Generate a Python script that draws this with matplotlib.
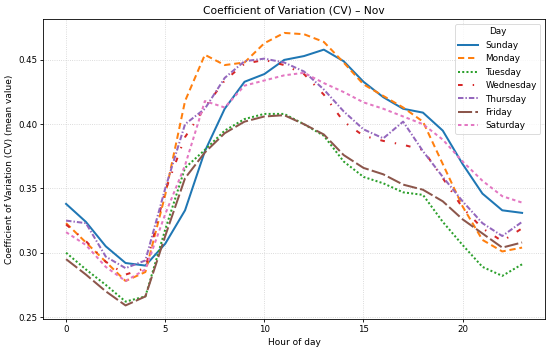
import matplotlib
matplotlib.use("Agg")
import matplotlib.pyplot as plt

hours = list(range(24))
days = ["Sunday", "Monday", "Tuesday", "Wednesday", "Thursday", "Friday", "Saturday"]

sunday = [0.338, 0.324, 0.305, 0.292, 0.290, 0.307, 0.333, 0.379, 0.412, 0.433, 0.439, 0.450,
          0.453, 0.458, 0.449, 0.433, 0.421, 0.412, 0.409, 0.395, 0.369, 0.346, 0.333, 0.331]
monday = [0.323, 0.308, 0.293, 0.278, 0.285, 0.345, 0.418, 0.454, 0.446, 0.448, 0.463, 0.471,
          0.470, 0.464, 0.448, 0.431, 0.422, 0.413, 0.402, 0.369, 0.336, 0.310, 0.301, 0.304]
tuesday = [0.300, 0.287, 0.275, 0.262, 0.266, 0.318, 0.366, 0.380, 0.395, 0.404, 0.408, 0.408,
           0.400, 0.391, 0.371, 0.359, 0.354, 0.347, 0.345, 0.324, 0.306, 0.289, 0.282, 0.291]
wednesday = [0.322, 0.309, 0.293, 0.283, 0.288, 0.348, 0.390, 0.413, 0.434, 0.447, 0.450, 0.446,
             0.439, 0.423, 0.402, 0.391, 0.387, 0.384, 0.380, 0.358, 0.335, 0.319, 0.309, 0.319]
thursday = [0.325, 0.323, 0.297, 0.288, 0.294, 0.350, 0.400, 0.412, 0.436, 0.449, 0.451, 0.448,
            0.441, 0.427, 0.410, 0.396, 0.389, 0.402, 0.379, 0.359, 0.340, 0.323, 0.313, 0.324]
friday = [0.295, 0.283, 0.270, 0.259, 0.266, 0.313, 0.358, 0.378, 0.393, 0.402, 0.406, 0.407,
          0.400, 0.392, 0.376, 0.366, 0.361, 0.353, 0.349, 0.340, 0.326, 0.315, 0.304, 0.308]
saturday = [0.316, 0.306, 0.289, 0.278, 0.287, 0.330, 0.368, 0.418, 0.413, 0.430, 0.434, 0.438,
            0.440, 0.432, 0.425, 0.417, 0.412, 0.406, 0.400, 0.388, 0.371, 0.356, 0.344, 0.339]

series = [sunday, monday, tuesday, wednesday, thursday, friday, saturday]
colors = ["#1f77b4", "#ff7f0e", "#2ca02c", "#d62728", "#9467bd", "#8c564b", "#e377c2"]
# dash patterns in units of line width
styles = ["-", (0, (3.1, 1.9)), (0, (1, 1.1)), (0, (2.3, 5, 0.7, 5)),
          (0, (2.7, 1.0, 0.7, 1.0)), (0, (7, 1.6)), (0, (1.7, 1.5))]

fig = plt.figure(figsize=(5.5, 3.51), dpi=100)
ax = fig.add_axes([0.0787, 0.091, 0.912, 0.854])

for vals, name, c, ls in zip(series, days, colors, styles):
    ax.plot(hours, vals, color=c, linestyle=ls, linewidth=1.45, label=name)

ax.set_title("Coefficient of Variation (CV) – Nov", fontsize=7.7, pad=4)
ax.set_xlabel("Hour of day", fontsize=6.5, labelpad=3)
ax.set_ylabel("Coefficient of Variation (CV) (mean value)", fontsize=6.5, labelpad=3)
ax.tick_params(labelsize=6.2, length=2.5, width=0.6, pad=2)
ax.set_xticks([0, 5, 10, 15, 20])
ax.grid(True, linestyle=":", color="#d0d0d0", linewidth=0.6)
for s in ax.spines.values():
    s.set_linewidth(0.6)

leg = ax.legend(title="Day", loc="upper right", fontsize=6.4, title_fontsize=6.4,
                handlelength=2.25, labelspacing=0.5, borderpad=0.4)
leg.get_frame().set_linewidth(0.6)

fig.savefig("out.png", dpi=100)
